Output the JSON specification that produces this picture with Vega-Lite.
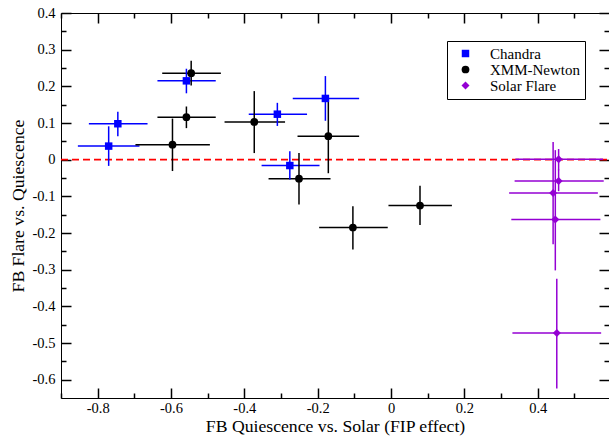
{
  "$schema": "https://vega.github.io/schema/vega-lite/v6.json",
  "width": 548,
  "height": 385,
  "autosize": {"type": "none"},
  "padding": {"left": 61, "top": 13, "right": 0, "bottom": 39},
  "background": "white",
  "view": {"stroke": "black", "strokeWidth": 1},
  "datasets": {
    "pts": [
      {"series": "Chandra", "x": -0.770, "y": 0.037, "xlo": -0.854, "xhi": -0.686, "ylo": -0.017, "yhi": 0.091},
      {"series": "Chandra", "x": -0.745, "y": 0.098, "xlo": -0.824, "xhi": -0.664, "ylo": 0.064, "yhi": 0.131},
      {"series": "Chandra", "x": -0.558, "y": 0.215, "xlo": -0.637, "xhi": -0.478, "ylo": 0.181, "yhi": 0.248},
      {"series": "Chandra", "x": -0.310, "y": 0.124, "xlo": -0.388, "xhi": -0.229, "ylo": 0.092, "yhi": 0.155},
      {"series": "Chandra", "x": -0.179, "y": 0.167, "xlo": -0.268, "xhi": -0.087, "ylo": 0.106, "yhi": 0.228},
      {"series": "Chandra", "x": -0.276, "y": -0.016, "xlo": -0.353, "xhi": -0.195, "ylo": -0.054, "yhi": 0.023},
      {"series": "XMM-Newton", "x": -0.596, "y": 0.041, "xlo": -0.697, "xhi": -0.494, "ylo": -0.031, "yhi": 0.112},
      {"series": "XMM-Newton", "x": -0.545, "y": 0.236, "xlo": -0.624, "xhi": -0.464, "ylo": 0.202, "yhi": 0.270},
      {"series": "XMM-Newton", "x": -0.558, "y": 0.116, "xlo": -0.637, "xhi": -0.478, "ylo": 0.086, "yhi": 0.145},
      {"series": "XMM-Newton", "x": -0.373, "y": 0.103, "xlo": -0.454, "xhi": -0.289, "ylo": 0.018, "yhi": 0.187},
      {"series": "XMM-Newton", "x": -0.171, "y": 0.064, "xlo": -0.255, "xhi": -0.087, "ylo": -0.037, "yhi": 0.165},
      {"series": "XMM-Newton", "x": -0.251, "y": -0.052, "xlo": -0.334, "xhi": -0.165, "ylo": -0.122, "yhi": 0.018},
      {"series": "XMM-Newton", "x": -0.104, "y": -0.185, "xlo": -0.196, "xhi": -0.009, "ylo": -0.245, "yhi": -0.127},
      {"series": "XMM-Newton", "x": 0.079, "y": -0.125, "xlo": -0.007, "xhi": 0.166, "ylo": -0.178, "yhi": -0.071},
      {"series": "Solar Flare", "x": 0.457, "y": 0.001, "xlo": 0.339, "xhi": 0.578, "ylo": -0.029, "yhi": 0.029},
      {"series": "Solar Flare", "x": 0.457, "y": -0.058, "xlo": 0.337, "xhi": 0.580, "ylo": -0.086, "yhi": -0.027},
      {"series": "Solar Flare", "x": 0.442, "y": -0.091, "xlo": 0.322, "xhi": 0.564, "ylo": -0.231, "yhi": 0.048},
      {"series": "Solar Flare", "x": 0.448, "y": -0.163, "xlo": 0.328, "xhi": 0.571, "ylo": -0.302, "yhi": 0.026},
      {"series": "Solar Flare", "x": 0.452, "y": -0.473, "xlo": 0.331, "xhi": 0.573, "ylo": -0.624, "yhi": -0.325}
    ],
    "zero": [{"xa": -0.9, "xb": 0.5944, "y": 0}]
  },
  "resolve": {"axis": {"x": "independent", "y": "independent"}},
  "layer": [
    {
      "data": {"name": "zero"},
      "mark": {"type": "rule", "stroke": "#ff0000", "strokeWidth": 1.6, "strokeDash": [7, 4]},
      "encoding": {
        "x": {"field": "xa", "type": "quantitative", "scale": {"domain": [-0.9, 0.5944], "nice": false, "zero": false},
          "axis": {"orient": "top", "values": [-0.9, -0.7, -0.5, -0.3, -0.1, 0.1, 0.3, 0.5], "offset": -5, "tickSize": 5, "ticks": true, "tickColor": "#000000", "tickWidth": 1.5, "tickOpacity": 1, "domainOpacity": 0, "grid": true, "gridOpacity": 0, "labels": false, "title": null}},
        "x2": {"field": "xb"},
        "y": {"field": "y", "type": "quantitative", "scale": {"domain": [-0.65, 0.4], "nice": false, "zero": false},
          "axis": {"orient": "right", "values": [-0.55, -0.45, -0.35, -0.25, -0.15, -0.05, 0.05, 0.15, 0.25, 0.35], "offset": -5, "tickSize": 5, "ticks": true, "tickColor": "#000000", "tickWidth": 1.5, "tickOpacity": 1, "domainOpacity": 0, "grid": true, "gridOpacity": 0, "labels": false, "title": null}}
      }
    },
    {
      "data": {"name": "pts"},
      "mark": {"type": "rule", "strokeWidth": 1.5},
      "encoding": {
        "x": {"field": "xlo", "type": "quantitative",
          "axis": {"orient": "bottom", "values": [-0.8, -0.6, -0.4, -0.2, 0, 0.2, 0.4], "offset": -10, "tickSize": 10, "ticks": true, "tickColor": "#000000", "tickWidth": 1.5, "tickOpacity": 1, "domainOpacity": 0, "grid": true, "gridOpacity": 0,
            "labelPadding": 3, "labelFont": "Liberation Serif", "labelFontSize": 14.5, "labelColor": "#000000",
            "labelExpr": "datum.value == 0 ? '0' : (datum.value < 0 ? '-' + format(-datum.value, '.1f') : format(datum.value, '.1f'))",
            "title": "FB Quiescence vs. Solar (FIP effect)", "titleY": 43, "titleBaseline": "alphabetic",
            "titleFont": "Liberation Serif", "titleFontSize": 17.7, "titleFontWeight": "normal", "titleColor": "#000000"}},
        "x2": {"field": "xhi"},
        "y": {"field": "y", "type": "quantitative",
          "axis": {"orient": "left", "values": [-0.6, -0.5, -0.4, -0.3, -0.2, -0.1, 0, 0.1, 0.2, 0.3, 0.4], "offset": -10, "tickSize": 10, "ticks": true, "tickColor": "#000000", "tickWidth": 1.5, "tickOpacity": 1, "domainOpacity": 0, "grid": true, "gridOpacity": 0,
            "labelPadding": 6, "labelFont": "Liberation Serif", "labelFontSize": 14.5, "labelColor": "#000000",
            "labelExpr": "datum.value == 0 ? '0' : (datum.value < 0 ? '-' + format(-datum.value, '.1f') : format(datum.value, '.1f'))",
            "title": "FB Flare vs. Quiescence", "titleX": -47.4, "titleY": 192.5, "titleAngle": -90, "titleBaseline": "alphabetic", "titleAlign": "center",
            "titleFont": "Liberation Serif", "titleFontSize": 17.7, "titleFontWeight": "normal", "titleColor": "#000000"}},
        "stroke": {"field": "series", "type": "nominal", "legend": null,
          "scale": {"domain": ["XMM-Newton", "Chandra", "Solar Flare"], "range": ["#000000", "#0000ff", "#9400d3"]}}
      }
    },
    {
      "data": {"name": "pts"},
      "mark": {"type": "rule", "strokeWidth": 1.5},
      "encoding": {
        "x": {"field": "x", "type": "quantitative",
          "axis": {"orient": "bottom", "values": [-0.9, -0.7, -0.5, -0.3, -0.1, 0.1, 0.3, 0.5], "offset": -5, "tickSize": 5, "ticks": true, "tickColor": "#000000", "tickWidth": 1.5, "tickOpacity": 1, "domainOpacity": 0, "grid": true, "gridOpacity": 0, "labels": false, "title": null}},
        "y": {"field": "ylo", "type": "quantitative",
          "axis": {"orient": "left", "values": [-0.55, -0.45, -0.35, -0.25, -0.15, -0.05, 0.05, 0.15, 0.25, 0.35], "offset": -5, "tickSize": 5, "ticks": true, "tickColor": "#000000", "tickWidth": 1.5, "tickOpacity": 1, "domainOpacity": 0, "grid": true, "gridOpacity": 0, "labels": false, "title": null}},
        "y2": {"field": "yhi"},
        "stroke": {"field": "series", "type": "nominal", "legend": null}
      }
    },
    {
      "data": {"name": "pts"},
      "mark": {"type": "point", "filled": true, "opacity": 1},
      "encoding": {
        "x": {"field": "x", "type": "quantitative",
          "axis": {"orient": "top", "values": [-0.8, -0.6, -0.4, -0.2, 0, 0.2, 0.4], "offset": -10, "tickSize": 10, "ticks": true, "tickColor": "#000000", "tickWidth": 1.5, "tickOpacity": 1, "domainOpacity": 0, "grid": true, "gridOpacity": 0, "labels": false, "title": null}},
        "y": {"field": "y", "type": "quantitative",
          "axis": {"orient": "right", "values": [-0.6, -0.5, -0.4, -0.3, -0.2, -0.1, 0, 0.1, 0.2, 0.3, 0.4], "offset": -10, "tickSize": 10, "ticks": true, "tickColor": "#000000", "tickWidth": 1.5, "tickOpacity": 1, "domainOpacity": 0, "grid": true, "gridOpacity": 0, "labels": false, "title": null}},
        "color": {"field": "series", "type": "nominal",
          "scale": {"domain": ["Chandra", "XMM-Newton", "Solar Flare"], "range": ["#0000ff", "#000000", "#9400d3"]},
          "legend": {"orient": "none", "legendX": 386, "legendY": 28, "direction": "vertical", "title": null,
            "strokeColor": "black", "fillColor": "white", "padding": 5, "symbolOffset": 6, "labelOffset": 17, "rowPadding": 0,
            "labelFont": "Liberation Serif", "labelFontSize": 15, "labelColor": "black", "symbolOpacity": 1}},
        "shape": {"field": "series", "type": "nominal",
          "scale": {"domain": ["Chandra", "XMM-Newton", "Solar Flare"], "range": ["square", "circle", "diamond"]}},
        "size": {"field": "series", "type": "nominal",
          "scale": {"domain": ["Chandra", "XMM-Newton", "Solar Flare"], "range": [56, 64, 120]}}
      }
    }
  ]
}
